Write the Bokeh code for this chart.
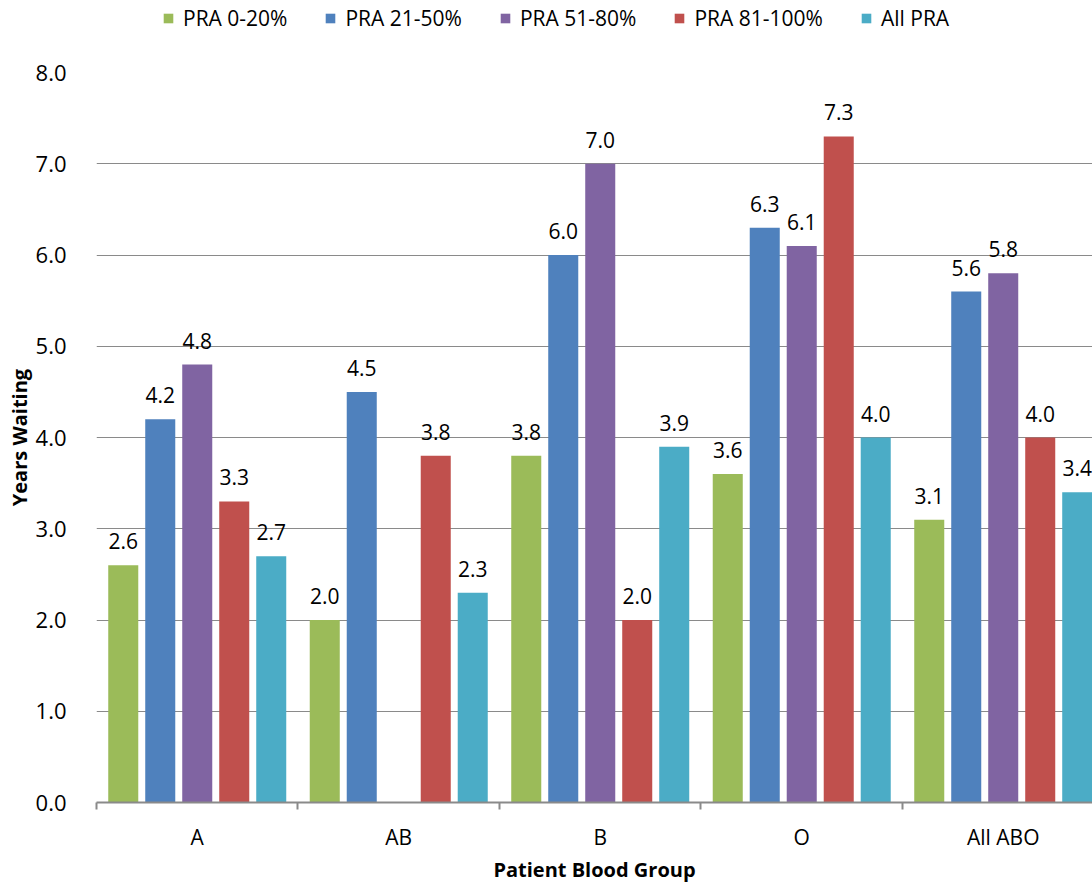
from bokeh.plotting import figure
from bokeh.layouts import column
from bokeh.models import (Range1d, FixedTicker, Legend, LegendItem, ColumnDataSource,
                          PrintfTickFormatter)
from bokeh.core.properties import value
from bokeh.embed import file_html
from bokeh.resources import INLINE

categories = ["A", "AB", "B", "O", "All ABO"]
series_names = ["PRA 0-20%", "PRA 21-50%", "PRA 51-80%", "PRA 81-100%", "All PRA"]
colors = ["#9BBB59", "#4F81BD", "#8064A2", "#C0504D", "#4BACC6"]

pra_0_20 = [2.6, 2.0, 3.8, 3.6, 3.1]
pra_21_50 = [4.2, 4.5, 6.0, 6.3, 5.6]
pra_51_80 = [4.8, None, 7.0, 6.1, 5.8]
pra_81_100 = [3.3, 3.8, 2.0, 7.3, 4.0]
all_pra = [2.7, 2.3, 3.9, 4.0, 3.4]
series = [pra_0_20, pra_21_50, pra_51_80, pra_81_100, all_pra]

y_ticks = [0, 1, 2, 3, 4, 5, 6, 7, 8]

FONT = "Open Sans"
TOP_H = 45

pitch = 0.1836
bw = 0.149
offsets = [(-2 + i) * pitch for i in range(5)]

sources = []
for i, vals in enumerate(series):
    xs = [j + 0.5 + offsets[i] for j, v in enumerate(vals) if v is not None]
    ys = [v for v in vals if v is not None]
    sources.append(ColumnDataSource(dict(x=xs, top=ys, lab=["%.1f" % v for v in ys])))

# ---- legend strip on top (series drawn out of its visible y-range; only the legend shows) ----
top = figure(width=1092, height=TOP_H, output_backend="svg", toolbar_location=None,
             x_range=Range1d(0, 4.943), y_range=Range1d(100, 101),
             x_axis_type=None, y_axis_type=None,
             min_border_left=0, min_border_right=0, min_border_top=0, min_border_bottom=0)
top.outline_line_color = None
top.grid.visible = False
top.background_fill_color = "white"
top.border_fill_color = "white"

legend_renderers = []
for src, col in zip(sources, colors):
    r = top.vbar(x="x", top="top", bottom=0, width=bw, source=src,
                 fill_color=col, line_color=None)
    legend_renderers.append(r)

legend = Legend(items=[LegendItem(label=n, renderers=[r]) for n, r in zip(series_names, legend_renderers)],
                orientation="horizontal", location=(66, 13),
                label_text_font=FONT, label_text_font_size="21px", label_text_color="#000000",
                glyph_width=12, glyph_height=12, label_height=24, label_standoff=9,
                spacing=37, padding=0, margin=0,
                background_fill_alpha=0, border_line_color=None)
top.add_layout(legend, "center")

# ---- main chart ----
p = figure(width=1092, height=885 - TOP_H, output_backend="svg", toolbar_location=None,
           x_range=Range1d(0, 4.943), y_range=Range1d(0, 8),
           min_border_left=96, min_border_right=0, min_border_top=72 - TOP_H, min_border_bottom=81)
p.outline_line_color = None
p.background_fill_color = "white"
p.border_fill_color = "white"

for src, col in zip(sources, colors):
    p.vbar(x="x", top="top", bottom=0, width=bw, source=src,
           fill_color=col, line_color=None)
    p.text(x="x", y="top", text="lab", source=src, text_align="center",
           text_baseline="alphabetic", y_offset=-24, text_font=value(FONT),
           text_font_size="21px", text_color="#000000")

# grid
p.xgrid.grid_line_color = None
p.ygrid.grid_line_color = "#8A8A8A"
p.ygrid.grid_line_width = 1
p.ygrid.ticker = FixedTicker(ticks=y_ticks)

# y axis
p.yaxis.ticker = FixedTicker(ticks=y_ticks)
p.yaxis.formatter = PrintfTickFormatter(format="%.1f")
p.yaxis.axis_line_color = None
p.yaxis.major_tick_line_color = None
p.yaxis.minor_tick_line_color = None
p.yaxis.major_label_standoff = 24
p.yaxis.major_label_text_font = FONT
p.yaxis.major_label_text_font_size = "22px"
p.yaxis.major_label_text_color = "#000000"
p.yaxis.axis_label = "Years Waiting"
p.yaxis.axis_label_text_font = FONT
p.yaxis.axis_label_text_font_style = "bold"
p.yaxis.axis_label_text_font_size = "20px"
p.yaxis.axis_label_text_color = "#000000"
p.yaxis.axis_label_standoff = 0

# x axis
p.xaxis.ticker = FixedTicker(ticks=[j + 0.5 for j in range(5)], minor_ticks=[0, 1, 2, 3, 4, 5])
p.xaxis.major_label_overrides = {j + 0.5: c for j, c in enumerate(categories)}
p.xaxis.axis_line_color = "#8A8A8A"
p.xaxis.axis_line_width = 2
p.xaxis.major_tick_line_color = None
p.xaxis.minor_tick_line_color = "#8A8A8A"
p.xaxis.minor_tick_line_width = 2
p.xaxis.minor_tick_out = 7
p.xaxis.minor_tick_in = 0
p.xaxis.major_label_standoff = 13
p.xaxis.major_label_text_font = FONT
p.xaxis.major_label_text_font_size = "21px"
p.xaxis.major_label_text_color = "#000000"
p.xaxis.axis_label = "Patient Blood Group"
p.xaxis.axis_label_text_font = FONT
p.xaxis.axis_label_text_font_style = "bold"
p.xaxis.axis_label_text_font_size = "20px"
p.xaxis.axis_label_text_color = "#000000"
p.xaxis.axis_label_standoff = 2

layout = column(top, p, spacing=0)

open("out.html", "w").write(file_html(layout, INLINE))
